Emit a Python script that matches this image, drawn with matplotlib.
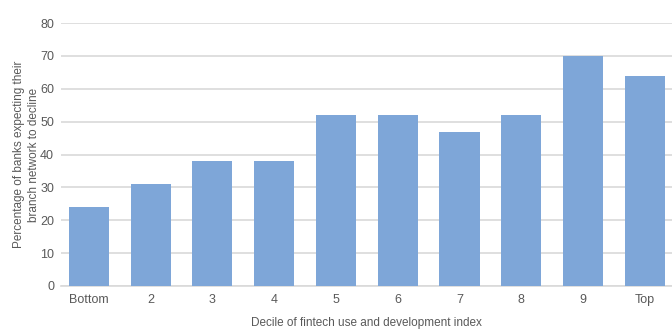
import matplotlib
matplotlib.use("Agg")
import matplotlib.pyplot as plt
from matplotlib import font_manager as fm

categories = ["Bottom", "2", "3", "4", "5", "6", "7", "8", "9", "Top"]
values = [24, 31, 38, 38, 52, 52, 47, 52, 70, 64]
yticks = [0, 10, 20, 30, 40, 50, 60, 70, 80]

names = sorted({f.name for f in fm.fontManager.ttflist})
fam = "Liberation Sans Narrow" if "Liberation Sans Narrow" in names else "Liberation Sans"
plt.rcParams["font.family"] = [fam, "DejaVu Sans"]

tc = "#595959"
fig = plt.figure(figsize=(6.72, 3.29), dpi=100)
ax = fig.add_axes([0.0908, 0.1307, 0.9092, 0.7993])
x = list(range(len(categories)))
ax.bar(x, values, width=0.65, color="#7EA6D8", zorder=3)
ax.set_xlim(-0.45, 9.44)
ax.set_ylim(0, 80)
ax.set_yticks(yticks)
ax.set_xticks(x)
ax.set_xticklabels(categories)
ax.grid(axis="y", color="#d9d9d9", linewidth=1.2, zorder=0)
for s in ["top", "right", "left"]:
    ax.spines[s].set_visible(False)
ax.spines["bottom"].set_color("#d9d9d9")
ax.spines["bottom"].set_linewidth(1.2)
ax.tick_params(axis="both", length=0, labelsize=9, colors=tc, pad=6)
ax.tick_params(axis="y", pad=5)
ax.set_xlabel("Decile of fintech use and development index", fontsize=8.5, color=tc, labelpad=8)
ax.set_ylabel("Percentage of banks expecting their\nbranch network to decline", fontsize=8.5, color=tc, labelpad=0, linespacing=1.35)
fig.savefig("out.png", dpi=100)
